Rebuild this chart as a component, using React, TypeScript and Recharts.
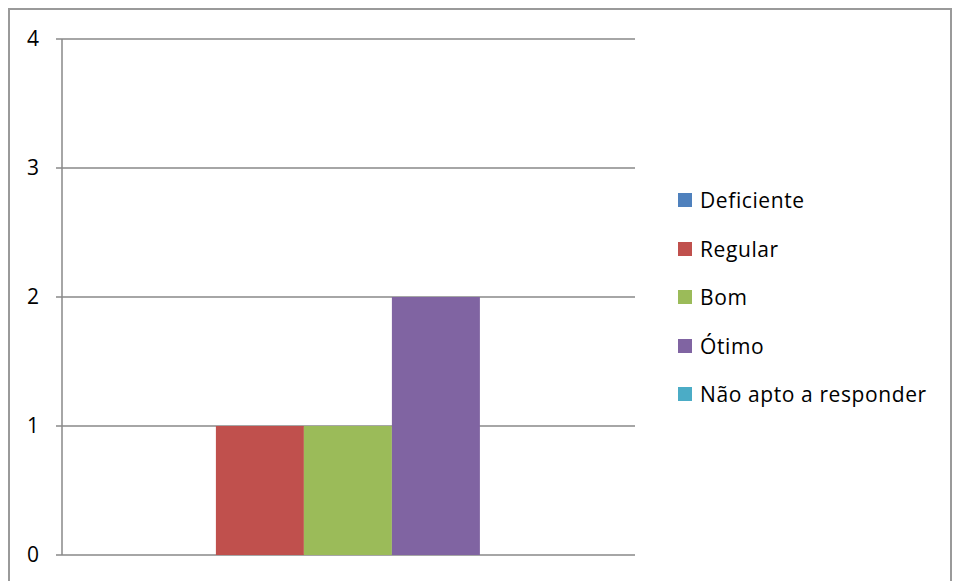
import { BarChart, Bar, XAxis, YAxis, CartesianGrid, Legend } from "recharts";

const categories = [""];
const seriesNames = ["Deficiente", "Regular", "Bom", "Ótimo", "Não apto a responder"];
const seriesValues = [[0], [1], [1], [2], [0]];
const seriesColors = ["#4F81BD", "#C0504D", "#9BBB59", "#8064A2", "#4BACC6"];
const yTicks = [0, 1, 2, 3, 4];

const data = categories.map((cat, i) => {
  const row: Record<string, string | number> = { name: cat };
  seriesNames.forEach((s, j) => {
    row[s] = seriesValues[j][i];
  });
  return row;
});

const FONT = "'Open Sans', sans-serif";

function LegendBox() {
  return (
    <div style={{ fontFamily: FONT, fontSize: 21, letterSpacing: 0.6, color: "#000" }}>
      {seriesNames.map((s, i) => (
        <div
          key={s}
          style={{ height: 48.5, display: "flex", alignItems: "center" }}
        >
          <span
            style={{
              display: "inline-block",
              width: 14,
              height: 14,
              background: seriesColors[i],
              marginRight: 8,
            }}
          />
          <span style={{ whiteSpace: "nowrap" }}>{s}</span>
        </div>
      ))}
    </div>
  );
}

export default function App() {
  return (
    <div style={{ position: "absolute", left: 0, top: 0, width: 960, height: 581, overflow: "hidden" }}>
      <div
        style={{
          position: "absolute",
          left: 8,
          top: 8,
          width: 944,
          height: 620,
          boxSizing: "border-box",
          border: "2px solid #9a9a9a",
        }}
      />
      <div style={{ position: "absolute", left: 0, top: 0 }}>
        <BarChart
          width={960}
          height={581}
          data={data}
          margin={{ top: 39, right: 45, bottom: 26, left: 0 }}
          barCategoryGap="11.5%"
          barGap={0}
        >
          <CartesianGrid vertical={false} stroke="#888" strokeWidth={1.5} />
          <XAxis dataKey="name" tick={false} tickLine={false} axisLine={{ stroke: "#888", strokeWidth: 1.5 }} height={0} />
          <YAxis
            width={62}
            domain={[0, 4]}
            ticks={yTicks}
            interval={0}
            tickSize={6}
            tickMargin={17}
            axisLine={{ stroke: "#888", strokeWidth: 1.5 }}
            tickLine={{ stroke: "#888", strokeWidth: 1.5 }}
            tick={{ fill: "#000", fontSize: 21, fontFamily: FONT }}
          />
          <Legend
            layout="vertical"
            align="right"
            verticalAlign="top"
            content={() => <LegendBox />}
            wrapperStyle={{ left: 678, top: 176, width: 280 }}
          />
          {seriesNames.map((s, i) => (
            <Bar key={s} dataKey={s} fill={seriesColors[i]} isAnimationActive={false} />
          ))}
        </BarChart>
      </div>
    </div>
  );
}
